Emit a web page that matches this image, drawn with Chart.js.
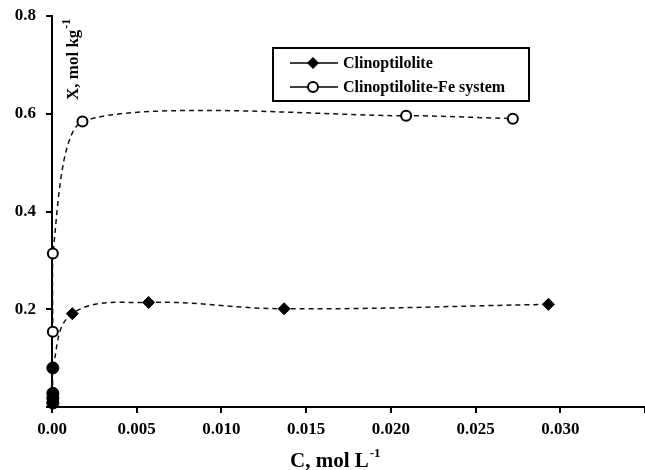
<!DOCTYPE html>
<html>
<head>
<meta charset="utf-8">
<script src="https://cdn.jsdelivr.net/npm/chart.js@4.4.1/dist/chart.umd.min.js"></script>
<style>body{margin:0;background:#fff}</style>
</head>
<body>
<canvas id="isotherm" width="645" height="470"></canvas>
<script>
// equilibrium concentration C (mol/L) vs uptake X (mol/kg)
const clinoC = [0.00005, 0.00005, 0.00005, 0.00005, 0.0012, 0.0057, 0.0137, 0.0293];
const clinoX = [0.008, 0.018, 0.028, 0.080, 0.191, 0.214, 0.201, 0.210];
const feC = [0.00005, 0.00005, 0.0018, 0.0209, 0.0272];
const feX = [0.154, 0.314, 0.584, 0.596, 0.590];
const xTickLabels = ['0.00', '0.005', '0.010', '0.015', '0.020', '0.025', '0.030'];
const yTickLabels = ['0.2', '0.4', '0.6', '0.8'];

const serif = "'Liberation Serif', 'Times New Roman', serif";
const toPts = (xs, ys) => xs.map((x, i) => ({x: x, y: ys[i]}));

// axis titles with superscripts + boxed legend
const decorations = {
  id: 'decorations',
  afterDraw(chart) {
    const ctx = chart.ctx;
    ctx.save();
    ctx.fillStyle = '#000';
    ctx.strokeStyle = '#000';
    ctx.textBaseline = 'alphabetic';

    // x title
    ctx.font = 'bold 21px ' + serif;
    ctx.textAlign = 'left';
    ctx.fillText('C, mol L', 290, 467);
    const w = ctx.measureText('C, mol L').width;
    ctx.font = 'bold 13px ' + serif;
    ctx.fillText('-1', 290 + w + 1, 457);

    // y title, inside the plot
    ctx.translate(78, 100);
    ctx.rotate(-Math.PI / 2);
    ctx.font = 'bold 17px ' + serif;
    ctx.fillText('X, mol kg', 0, 0);
    const wy = ctx.measureText('X, mol kg').width;
    ctx.font = 'bold 12px ' + serif;
    ctx.fillText('-1', wy + 1, -8);
    ctx.setTransform(1, 0, 0, 1, 0, 0);

    // legend
    ctx.lineWidth = 2;
    ctx.strokeRect(273, 48, 256, 53);
    ctx.lineWidth = 1.5;
    ctx.font = 'bold 16px ' + serif;
    const rows = [
      {y: 63, text: 'Clinoptilolite', filled: true},
      {y: 87, text: 'Clinoptilolite-Fe system', filled: false}
    ];
    rows.forEach(r => {
      ctx.beginPath();
      ctx.moveTo(290, r.y);
      ctx.lineTo(338, r.y);
      ctx.stroke();
      if (r.filled) {
        ctx.beginPath();
        ctx.moveTo(313, r.y - 6);
        ctx.lineTo(319, r.y);
        ctx.lineTo(313, r.y + 6);
        ctx.lineTo(307, r.y);
        ctx.closePath();
        ctx.fill();
      } else {
        ctx.beginPath();
        ctx.arc(313, r.y, 5, 0, Math.PI * 2);
        ctx.fillStyle = '#fff';
        ctx.fill();
        ctx.lineWidth = 2;
        ctx.stroke();
        ctx.lineWidth = 1.5;
        ctx.fillStyle = '#000';
      }
      ctx.fillText(r.text, 343, r.y + 5);
    });
    ctx.restore();
  }
};

new Chart('isotherm', {
  type: 'scatter',
  data: {
    datasets: [{
      label: 'Clinoptilolite',
      data: toPts(clinoC, clinoX),
      showLine: true,
      clip: false,
      borderColor: '#111',
      borderWidth: 1.5,
      borderDash: [5, 4],
      tension: 0.4,
      pointStyle: clinoC.map((c, i) => i < 4 ? 'circle' : 'rectRot'),
      pointRadius: 6,
      pointBackgroundColor: '#000',
      pointBorderColor: '#000',
      pointBorderWidth: 1
    }, {
      label: 'Clinoptilolite-Fe system',
      data: toPts(feC, feX),
      showLine: true,
      clip: false,
      borderColor: '#111',
      borderWidth: 1.5,
      borderDash: [5, 4],
      tension: 0.22,
      pointStyle: 'circle',
      pointRadius: 5,
      pointBackgroundColor: '#fff',
      pointBorderColor: '#000',
      pointBorderWidth: 2
    }]
  },
  options: {
    responsive: false,
    animation: false,
    layout: { autoPadding: false, padding: { top: 16, right: 0, left: 0, bottom: 0 } },
    scales: {
      x: {
        type: 'linear',
        min: 0,
        max: 0.035,
        afterFit(scale) {
          scale.height = 63;
          scale.paddingLeft = 0;
          scale.paddingRight = 0;
        },
        ticks: {
          stepSize: 0.005,
          color: '#000',
          padding: 6,
          maxRotation: 0,
          autoSkip: false,
          font: { family: serif, size: 17, weight: 'bold' },
          callback: (v, i) => xTickLabels[i] ?? ''
        },
        grid: { drawOnChartArea: false, tickLength: 6, color: '#000', lineWidth: 2 },
        border: { color: '#000', width: 2 }
      },
      y: {
        min: 0,
        max: 0.8,
        afterFit(scale) {
          scale.width = 52;
          scale.paddingTop = 0;
          scale.paddingBottom = 0;
        },
        ticks: {
          stepSize: 0.2,
          color: '#000',
          padding: 10,
          font: { family: serif, size: 17, weight: 'bold' },
          callback: (v, i) => i === 0 ? '' : yTickLabels[i - 1]
        },
        grid: { drawOnChartArea: false, tickLength: 6, color: '#000', lineWidth: 2 },
        border: { color: '#000', width: 2 }
      }
    },
    plugins: {
      legend: { display: false },
      tooltip: { enabled: false }
    }
  },
  plugins: [decorations]
});
</script>
</body>
</html>
